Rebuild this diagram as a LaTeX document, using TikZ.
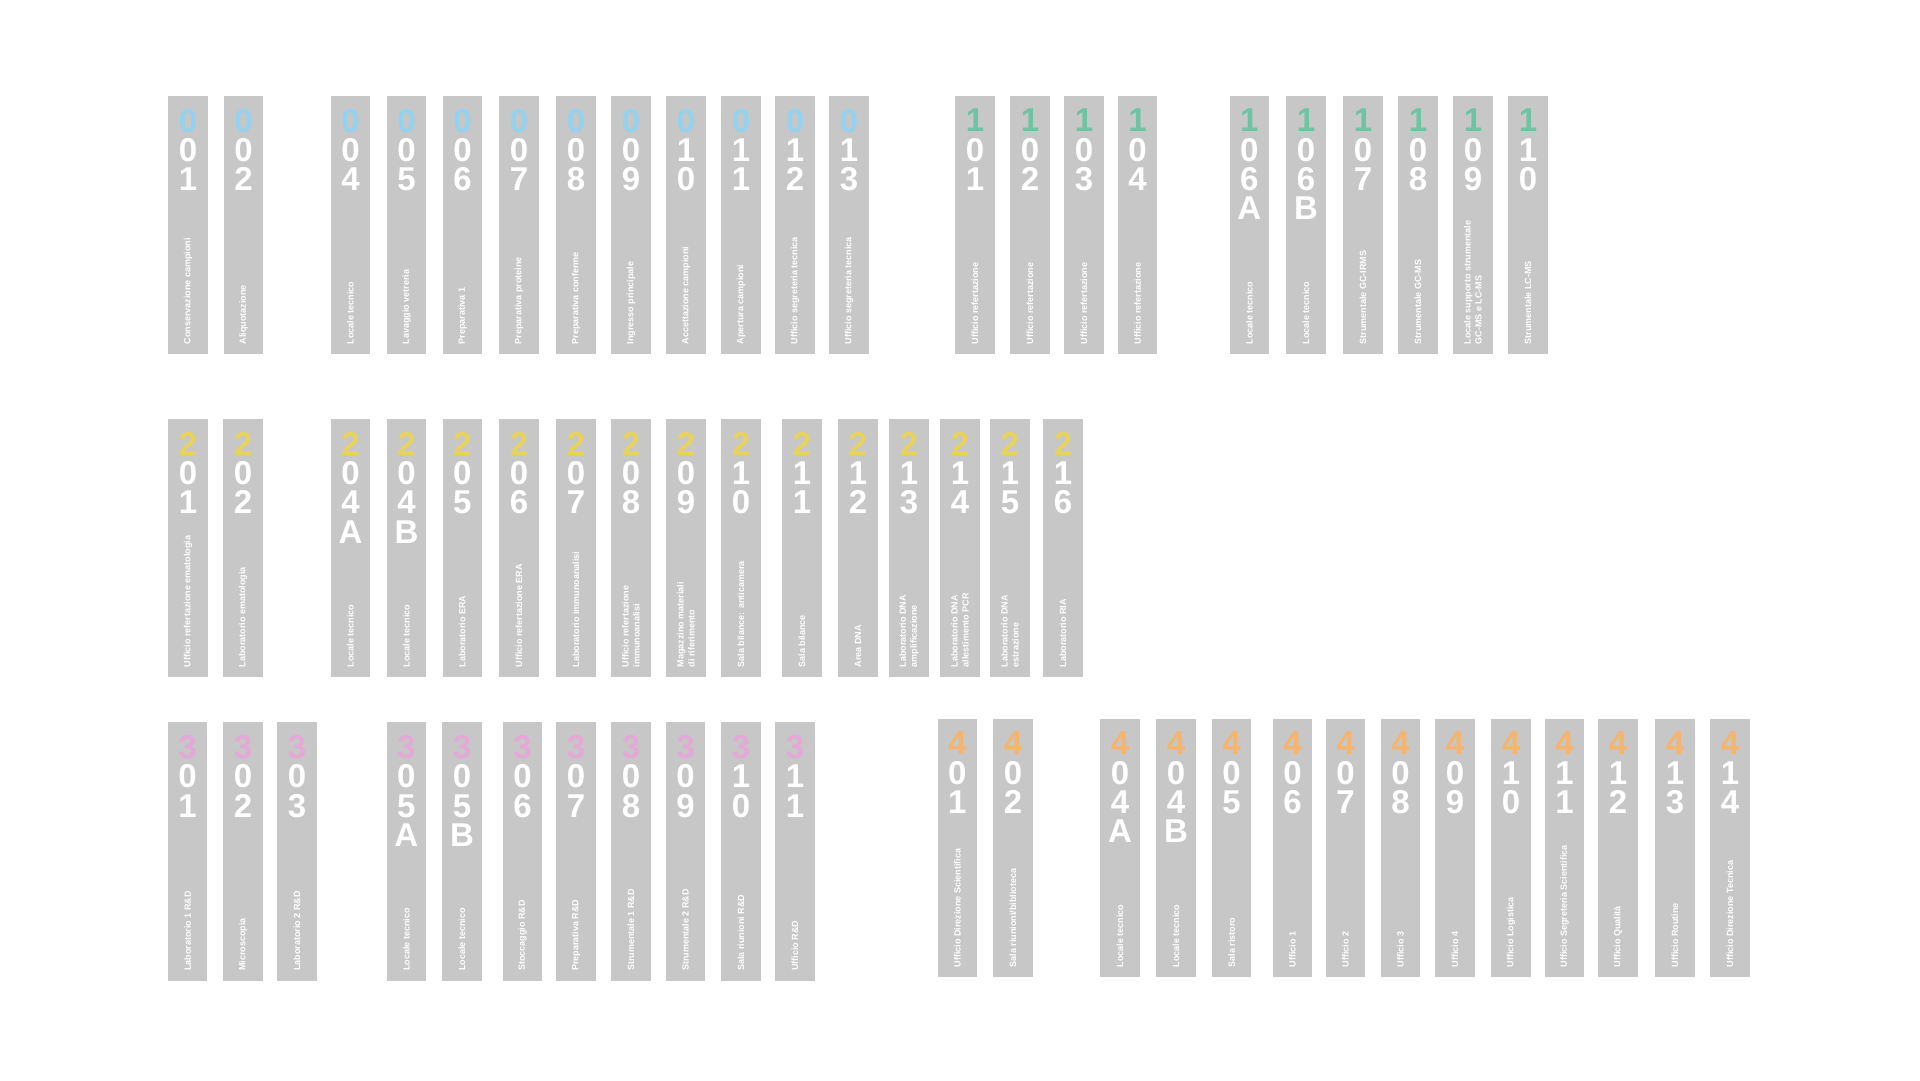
\documentclass[tikz,border=0pt]{standalone}
\usepackage{fontspec}
\setmainfont{Liberation Sans}
\usepackage{tikz}
\definecolor{roomgray}{HTML}{C7C7C7}
\definecolor{floorzero}{HTML}{92D3F1}
\definecolor{floorone}{HTML}{6CC4A2}
\definecolor{floortwo}{HTML}{E7D35C}
\definecolor{floorthree}{HTML}{E4A9D6}
\definecolor{floorfour}{HTML}{F6B46D}

\begin{document}
\begin{tikzpicture}[x=1pt,y=-1pt]
		\tikzset{room/.style={fill=roomgray,minimum width=39.5pt,minimum height=258.5pt,inner sep=0pt,anchor=north west}}
		\tikzset{roomno/.style={anchor=north,inner sep=0pt,align=center,text=white,font=\bfseries\fontsize{33}{29.3}\selectfont}}
		\tikzset{roomname/.style={anchor=west,rotate=90,inner sep=0pt,align=left,text=white,font=\bfseries\fontsize{9}{11}\selectfont}}
		\fill[white] (0,0) rectangle (1920,1080);
		\useasboundingbox (0,0) rectangle (1920,1080);
		\foreach \x/\n/\d/\t in {168/001/{0\\1}/{Conservazione campioni},
		   223.5/002/{0\\2}/{Aliquotazione},
		   330.5/004/{0\\4}/{Locale tecnico},
		   386.5/005/{0\\5}/{Lavaggio vetreria},
		   442.5/006/{0\\6}/{Preparativa 1},
		   499/007/{0\\7}/{Preparativa proteine},
		   556/008/{0\\8}/{Preparativa conferme},
		   611/009/{0\\9}/{Ingresso principale},
		   666/010/{1\\0}/{Accettazione campioni},
		   721/011/{1\\1}/{Apertura campioni},
		   775/012/{1\\2}/{Ufficio segreteria tecnica},
		   829/013/{1\\3}/{Ufficio segreteria tecnica}}{
		   \node[room] (r\n) at (\x,95.5) {};
		   \node[roomno] (n\n) at ([yshift=-13.4pt]r\n.north) {\textcolor{floorzero}{0}\\\d};
		   \node[roomname] (t\n) at ([yshift=10pt]r\n.south) {\t};
		}
		\foreach \x/\n/\d/\t in {955/101/{0\\1}/{Ufficio refertazione},
		   1010/102/{0\\2}/{Ufficio refertazione},
		   1064/103/{0\\3}/{Ufficio refertazione},
		   1117.6/104/{0\\4}/{Ufficio refertazione},
		   1229.4/106A/{0\\6\\A}/{Locale tecnico},
		   1286/106B/{0\\6\\B}/{Locale tecnico},
		   1343/107/{0\\7}/{Strumentale GC-IRMS},
		   1398/108/{0\\8}/{Strumentale GC-MS},
		   1453/109/{0\\9}/{Locale supporto strumentale\\GC-MS e LC-MS},
		   1508/110/{1\\0}/{Strumentale LC-MS}}{
		   \node[room] (r\n) at (\x,95.5) {};
		   \node[roomno] (n\n) at ([yshift=-13.4pt]r\n.north) {\textcolor{floorone}{1}\\\d};
		   \node[roomname] (t\n) at ([yshift=10pt]r\n.south) {\t};
		}
		\foreach \x/\n/\d/\t in {168/201/{0\\1}/{Ufficio refertazione ematologia},
		   223/202/{0\\2}/{Laboratorio ematologia},
		   330.5/204A/{0\\4\\A}/{Locale tecnico},
		   386.5/204B/{0\\4\\B}/{Locale tecnico},
		   442.3/205/{0\\5}/{Laboratorio ERA},
		   499/206/{0\\6}/{Ufficio refertazione ERA},
		   556/207/{0\\7}/{Laboratorio immunoanalisi},
		   611/208/{0\\8}/{Ufficio refertazione\\immunoanalisi},
		   666/209/{0\\9}/{Magazzino materiali\\di riferimento},
		   721/210/{1\\0}/{Sala bilance: anticamera},
		   782/211/{1\\1}/{Sala bilance},
		   838/212/{1\\2}/{Area DNA},
		   889/213/{1\\3}/{Laboratorio DNA\\amplificazione},
		   940/214/{1\\4}/{Laboratorio DNA\\allestimento PCR},
		   990/215/{1\\5}/{Laboratorio DNA\\estrazione},
		   1043/216/{1\\6}/{Laboratorio RIA}}{
		   \node[room] (r\n) at (\x,418.5) {};
		   \node[roomno] (n\n) at ([yshift=-13.4pt]r\n.north) {\textcolor{floortwo}{2}\\\d};
		   \node[roomname] (t\n) at ([yshift=10pt]r\n.south) {\t};
		}
		\foreach \x/\n/\d/\t in {167.6/301/{0\\1}/{Laboratorio 1 R\&D},
		   223/302/{0\\2}/{Microscopia},
		   277/303/{0\\3}/{Laboratorio 2 R\&D},
		   386.4/305A/{0\\5\\A}/{Locale tecnico},
		   442/305B/{0\\5\\B}/{Locale tecnico},
		   502.6/306/{0\\6}/{Stoccaggio R\&D},
		   556/307/{0\\7}/{Preparativa R\&D},
		   611/308/{0\\8}/{Strumentale 1 R\&D},
		   665.5/309/{0\\9}/{Strumentale 2 R\&D},
		   721/310/{1\\0}/{Sala riunioni R\&D},
		   775/311/{1\\1}/{Ufficio R\&D}}{
		   \node[room] (r\n) at (\x,722) {};
		   \node[roomno] (n\n) at ([yshift=-13.4pt]r\n.north) {\textcolor{floorthree}{3}\\\d};
		   \node[roomname] (t\n) at ([yshift=10pt]r\n.south) {\t};
		}
		\foreach \x/\n/\d/\t in {937.4/401/{0\\1}/{Ufficio Direzione Scientifica},
		   993/402/{0\\2}/{Sala riunioni/biblioteca},
		   1100/404A/{0\\4\\A}/{Locale tecnico},
		   1156/404B/{0\\4\\B}/{Locale tecnico},
		   1211.6/405/{0\\5}/{Sala ristoro},
		   1272.5/406/{0\\6}/{Ufficio 1},
		   1325.5/407/{0\\7}/{Ufficio 2},
		   1380.5/408/{0\\8}/{Ufficio 3},
		   1435/409/{0\\9}/{Ufficio 4},
		   1491/410/{1\\0}/{Ufficio Logistica},
		   1544.6/411/{1\\1}/{Ufficio Segreteria Scientifica},
		   1598/412/{1\\2}/{Ufficio Qualità},
		   1655/413/{1\\3}/{Ufficio Routine},
		   1710/414/{1\\4}/{Ufficio Direzione Tecnica}}{
		   \node[room] (r\n) at (\x,718.5) {};
		   \node[roomno] (n\n) at ([yshift=-13.4pt]r\n.north) {\textcolor{floorfour}{4}\\\d};
		   \node[roomname] (t\n) at ([yshift=10pt]r\n.south) {\t};
		}
\end{tikzpicture}
\end{document}
